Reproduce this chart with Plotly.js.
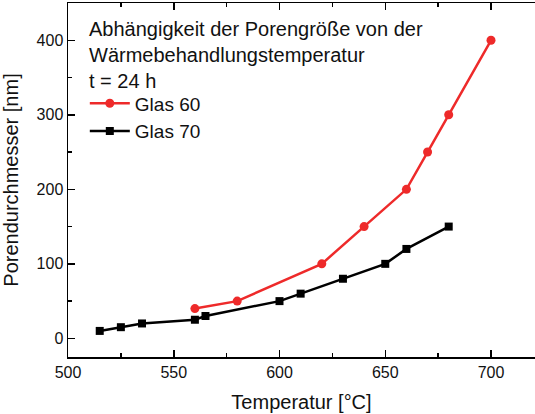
<!DOCTYPE html>
<html>
<head>
<meta charset="utf-8">
<script src="https://cdn.plot.ly/plotly-3.0.1.min.js"></script>
<style>html,body{margin:0;padding:0;background:#fff;}#chart{width:535px;height:414px;}</style>
</head>
<body>
<div id="chart"></div>
<script>
const glas60_T = [560, 580, 620, 640, 660, 670, 680, 700];
const glas60_D = [40, 50, 100, 150, 200, 250, 300, 400];
const glas70_T = [515, 525, 535, 560, 565, 600, 610, 630, 650, 660, 680];
const glas70_D = [10, 15, 20, 25, 30, 50, 60, 80, 100, 120, 150];
const seriesNames = ["Glas 60", "Glas 70"];
const noteLines = ["Abhängigkeit der Porengröße von der", "Wärmebehandlungstemperatur", "t = 24 h"];
const xTitle = "Temperatur [°C]";
const yTitle = "Porendurchmesser [nm]";

const FONT = "Liberation Sans, Arial, sans-serif";
const traces = [
  {x: glas60_T, y: glas60_D, name: seriesNames[0], mode: "lines+markers",
   line: {color: "#ee2a2a", width: 2.5}, marker: {symbol: "circle", size: 9, color: "#ee2a2a"}},
  {x: glas70_T, y: glas70_D, name: seriesNames[1], mode: "lines+markers",
   line: {color: "#000000", width: 2.5}, marker: {symbol: "square", size: 8, color: "#000000"}}
];
const axisCommon = {
  showgrid: false, zeroline: false, showline: true, linecolor: "#000", linewidth: 1.5,
  ticks: "inside", ticklen: 7, tickwidth: 1.5, tickcolor: "#000",
  tickfont: {family: FONT, size: 16, color: "#111"},
};
const layout = {
  width: 535, height: 414,
  margin: {l: 68, r: 0, t: 3, b: 57},
  paper_bgcolor: "#fff", plot_bgcolor: "#fff",
  font: {family: FONT, color: "#111"},
  xaxis: Object.assign({}, axisCommon, {
    range: [500, 720.8], dtick: 50, tick0: 500, mirror: "allticks",
    minor: {dtick: 25, ticks: "inside", ticklen: 4, tickwidth: 1.5, tickcolor: "#000", showgrid: false},
    title: {text: xTitle, font: {family: FONT, size: 20, color: "#111"}, standoff: 15}
  }),
  yaxis: Object.assign({}, axisCommon, {
    range: [-25, 450], dtick: 100, tick0: 0,
    minor: {dtick: 50, ticks: "inside", ticklen: 4, tickwidth: 1.5, tickcolor: "#000", showgrid: false},
    title: {text: yTitle, font: {family: FONT, size: 20, color: "#111"}, standoff: 12}
  }),
  showlegend: true,
  legend: {x: 0.036, y: 0.77, xanchor: "left", yanchor: "top", bgcolor: "rgba(0,0,0,0)",
    font: {family: FONT, size: 19, color: "#111"}, itemwidth: 40, tracegroupgap: 0},
  annotations: [{
    xref: "paper", yref: "paper", x: 0.041, y: 0.964, xanchor: "left", yanchor: "top",
    align: "left", showarrow: false, text: noteLines.join("<br>"),
    font: {family: FONT, size: 20, color: "#111"}
  }]
};
Plotly.newPlot("chart", traces, layout, {staticPlot: true});
</script>
</body>
</html>
